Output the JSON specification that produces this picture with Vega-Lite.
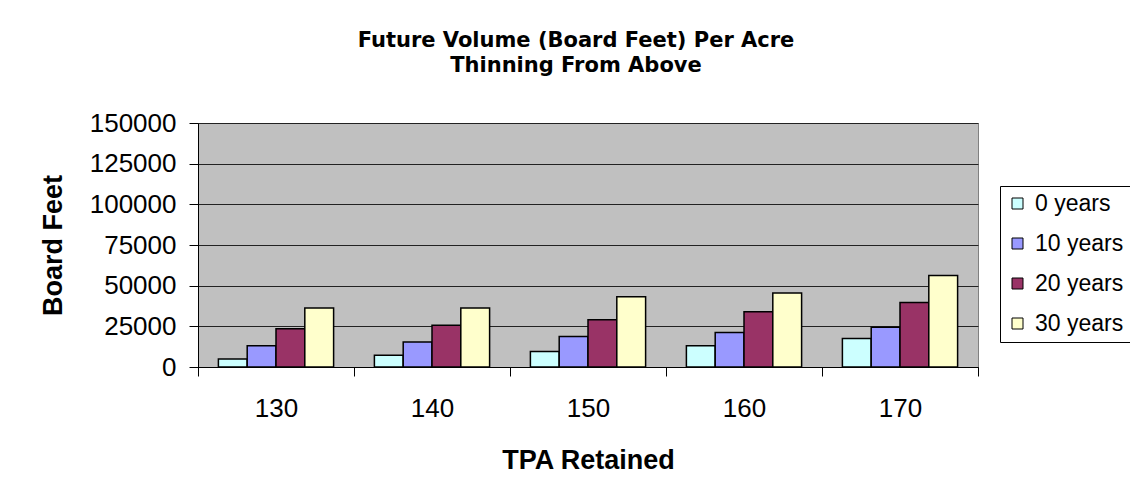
{
  "$schema": "https://vega.github.io/schema/vega-lite/v6.json",
  "autosize": "none",
  "width": 780,
  "height": 244,
  "padding": {"left": 198, "top": 123, "right": 152, "bottom": 134},
  "background": "white",
  "title": {
    "text": ["Future Volume (Board Feet) Per Acre", "Thinning From Above"],
    "font": "DejaVu Sans",
    "fontSize": 21,
    "fontWeight": "bold",
    "color": "black",
    "anchor": "middle",
    "dx": -12,
    "baseline": "alphabetic",
    "lineHeight": 25,
    "offset": 17
  },
  "data": {
    "values": [
      {"tpa": "130", "series": "0 years", "bf": 4900},
      {"tpa": "130", "series": "10 years", "bf": 13000},
      {"tpa": "130", "series": "20 years", "bf": 23500},
      {"tpa": "130", "series": "30 years", "bf": 36200},
      {"tpa": "140", "series": "0 years", "bf": 7200},
      {"tpa": "140", "series": "10 years", "bf": 15400},
      {"tpa": "140", "series": "20 years", "bf": 25700},
      {"tpa": "140", "series": "30 years", "bf": 36200},
      {"tpa": "150", "series": "0 years", "bf": 9500},
      {"tpa": "150", "series": "10 years", "bf": 18700},
      {"tpa": "150", "series": "20 years", "bf": 29000},
      {"tpa": "150", "series": "30 years", "bf": 43200},
      {"tpa": "160", "series": "0 years", "bf": 13000},
      {"tpa": "160", "series": "10 years", "bf": 21200},
      {"tpa": "160", "series": "20 years", "bf": 34000},
      {"tpa": "160", "series": "30 years", "bf": 45500},
      {"tpa": "170", "series": "0 years", "bf": 17500},
      {"tpa": "170", "series": "10 years", "bf": 24500},
      {"tpa": "170", "series": "20 years", "bf": 39700},
      {"tpa": "170", "series": "30 years", "bf": 56200}
    ]
  },
  "mark": {"type": "bar", "stroke": "black", "strokeWidth": 1.5},
  "encoding": {
    "x": {
      "field": "tpa",
      "type": "nominal",
      "sort": ["130", "140", "150", "160", "170"],
      "scale": {"paddingInner": 0, "paddingOuter": 0},
      "axis": {
        "title": "TPA Retained",
        "labelAngle": 0,
        "tickBand": "extent",
        "tickSize": 9,
        "tickColor": "black",
        "domainColor": "black",
        "labelFont": "Liberation Sans",
        "labelFontSize": 26,
        "labelColor": "black",
        "labelPadding": 19,
        "titleFont": "Liberation Sans",
        "titleFontSize": 27,
        "titleFontWeight": "bold",
        "titleColor": "black",
        "titlePadding": 26
      }
    },
    "xOffset": {
      "field": "series",
      "type": "nominal",
      "sort": ["0 years", "10 years", "20 years", "30 years"],
      "scale": {"paddingInner": 0, "paddingOuter": 0.708}
    },
    "y": {
      "field": "bf",
      "type": "quantitative",
      "scale": {"domain": [0, 150000], "nice": false},
      "axis": {
        "title": "Board Feet",
        "values": [0, 25000, 50000, 75000, 100000, 125000, 150000],
        "format": "d",
        "tickSize": 9,
        "tickColor": "black",
        "domainColor": "black",
        "grid": true,
        "gridColor": "#222222",
        "gridWidth": 1,
        "labelFont": "Liberation Sans",
        "labelFontSize": 26,
        "labelColor": "black",
        "labelPadding": 13,
        "titleFont": "Liberation Sans",
        "titleFontSize": 27,
        "titleFontWeight": "bold",
        "titleColor": "black",
        "titlePadding": 22
      }
    },
    "color": {
      "field": "series",
      "type": "nominal",
      "sort": ["0 years", "10 years", "20 years", "30 years"],
      "scale": {
        "domain": ["0 years", "10 years", "20 years", "30 years"],
        "range": ["#CCFFFF", "#9999FF", "#993366", "#FFFFCC"]
      },
      "legend": {
        "title": null,
        "orient": "none",
        "legendX": 802,
        "legendY": 63,
        "labelFont": "Liberation Sans",
        "labelFontSize": 23,
        "labelColor": "black",
        "symbolType": "square",
        "symbolSize": 121,
        "symbolStrokeColor": "black",
        "symbolStrokeWidth": 1,
        "symbolOpacity": 1,
        "strokeColor": "black",
        "fillColor": "white",
        "padding": 6,
        "rowPadding": 16,
        "labelOffset": 6
      }
    }
  },
  "config": {
    "view": {"fill": "#C0C0C0", "stroke": "#808080", "strokeWidth": 1},
    "axis": {"gridOpacity": 1}
  }
}
